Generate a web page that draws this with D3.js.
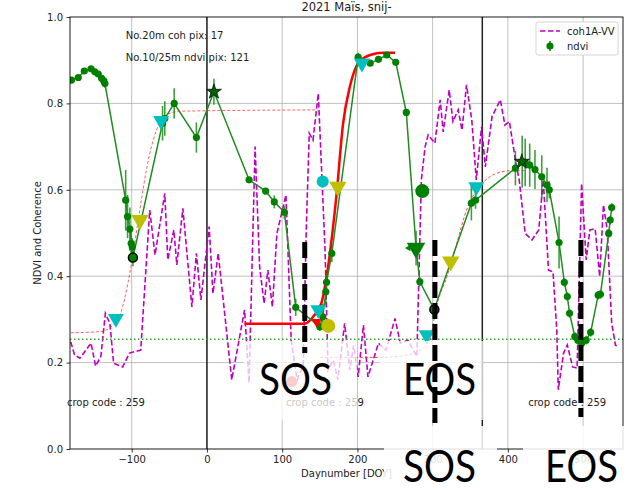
<!DOCTYPE html>
<html>
<head>
<meta charset="utf-8">
<script src="https://cdnjs.cloudflare.com/ajax/libs/d3/7.8.5/d3.min.js"></script>
<style>
  body { margin: 0; background: #fff; }
  text { font-family: "DejaVu Sans", sans-serif; }
</style>
</head>
<body>
<div id="chart"></div>
<script>
// ---- data ----
const title = "2021 Maïs, snij-";
const xTicks = [-100, 0, 100, 200, 300, 400, 500];
const yTicks = [0.0, 0.2, 0.4, 0.6, 0.8, 1.0];

// coherence coh1A-VV
const cohDoy = [-181, -176, -169, -154, -148, -141, -135, -129, -124, -112, -103, -88, -76, -69, -56, -52, -44, -40, -32, -20, -14, -8, 3, 8, 15, 33, 50, 56, 64, 70, 76, 81, 87, 93, 105, 112, 120, 128, 132, 136, 141, 148, 157, 161, 168, 174, 183, 190, 195, 201, 208, 214, 228, 238, 250, 257, 267, 279, 285, 290, 294, 303, 310, 314, 322, 327, 334, 339, 345, 352, 358, 365, 370, 379, 390, 396, 402, 410, 415, 423, 432, 441, 447, 454, 460, 465, 467, 474, 479, 486, 492, 498, 504, 509, 516, 522, 527, 532, 538, 543, 548];
const cohVal = [0.248, 0.218, 0.21, 0.245, 0.192, 0.214, 0.314, 0.291, 0.198, 0.19, 0.222, 0.229, 0.553, 0.449, 0.592, 0.438, 0.507, 0.426, 0.557, 0.329, 0.453, 0.345, 0.515, 0.36, 0.453, 0.16, 0.322, 0.153, 0.70, 0.422, 0.337, 0.414, 0.329, 0.499, 0.588, 0.252, 0.16, 0.194, 0.507, 0.731, 0.715, 0.823, 0.46, 0.183, 0.206, 0.16, 0.291, 0.183, 0.24, 0.167, 0.287, 0.167, 0.245, 0.229, 0.302, 0.245, 0.252, 0.214, 0.623, 0.70, 0.727, 0.708, 0.808, 0.734, 0.831, 0.758, 0.785, 0.738, 0.843, 0.762, 0.623, 0.746, 0.653, 0.77, 0.808, 0.75, 0.758, 0.669, 0.623, 0.499, 0.484, 0.507, 0.623, 0.414, 0.41, 0.275, 0.137, 0.222, 0.241, 0.19, 0.187, 0.615, 0.438, 0.507, 0.51, 0.399, 0.565, 0.507, 0.291, 0.24, 0.237];

// ndvi with error bars
const ndviDoy = [-180, -171, -163, -154, -149, -144.5, -140, -137, -135.6, -108, -105.5, -102.4, -100.7, -99.3, -98.4, -59, -56, -43.5, -14, 9.3, 56, 78, 89.5, 103, 118, 150, 154, 158, 159, 166, 201, 217, 228, 239, 251, 265, 278, 283, 302, 351.5, 357, 410, 419, 423, 429, 436, 445, 452, 455, 468, 475, 479, 482, 489, 493, 498, 504, 510, 520, 523, 534, 536, 538];
const ndviVal = [0.854, 0.86, 0.875, 0.88, 0.873, 0.868, 0.858, 0.852, 0.846, 0.576, 0.538, 0.509, 0.476, 0.468, 0.443, 0.754, 0.765, 0.80, 0.721, 0.827, 0.623, 0.597, 0.572, 0.548, 0.328, 0.283, 0.306, 0.364, 0.386, 0.453, 0.907, 0.893, 0.902, 0.912, 0.895, 0.779, 0.465, 0.387, 0.323, 0.569, 0.576, 0.65, 0.665, 0.663, 0.657, 0.647, 0.63, 0.611, 0.60, 0.478, 0.386, 0.353, 0.314, 0.26, 0.252, 0.245, 0.252, 0.27, 0.356, 0.358, 0.499, 0.53, 0.559];
const ndviErr = [0, 0, 0, 0, 0, 0, 0, 0, 0.01, 0.07, 0.05, 0.05, 0.03, 0.02, 0.02, 0.04, 0.04, 0.035, 0.035, 0.03, 0, 0, 0.015, 0.015, 0.02, 0.01, 0.03, 0.03, 0.02, 0.02, 0.01, 0, 0, 0, 0, 0, 0.04, 0.01, 0.01, 0.04, 0.02, 0.04, 0.06, 0.055, 0.05, 0.045, 0.05, 0.04, 0.02, 0.06, 0.01, 0.01, 0.01, 0.01, 0.01, 0.01, 0.01, 0.01, 0.01, 0.01, 0.01, 0.01, 0.01];

// fitted curves
const fit1Doy = [-181, -141, -123, -114, -105, -101, -96, -92, -76, -67, -54, -36, 148];
const fit1Val = [0.269, 0.272, 0.291, 0.318, 0.384, 0.422, 0.476, 0.522, 0.684, 0.738, 0.773, 0.782, 0.785];
const fit2Doy = [50, 130, 141, 152, 161, 172, 181, 190, 201, 217, 234, 250];
const fit2Val = [0.29, 0.29, 0.306, 0.337, 0.422, 0.584, 0.754, 0.839, 0.893, 0.912, 0.917, 0.917];
const fit3Doy = [150, 226, 257, 279, 296, 305, 319, 332, 345, 359, 376, 385, 403, 425];
const fit3Val = [0.212, 0.212, 0.215, 0.225, 0.252, 0.33, 0.399, 0.476, 0.553, 0.60, 0.63, 0.638, 0.644, 0.644];

// phenology markers
const cyanTriDoy = [-121, -61, 148, 206, 292, 358];
const cyanTriVal = [0.302, 0.76, 0.322, 0.893, 0.264, 0.607];
const yellowTriDoy = [-89, 174, 324];
const yellowTriVal = [0.53, 0.607, 0.434];
const edgeDotDoy = [-98.4, 302.3];
const edgeDotVal = [0.443, 0.323];
const starDoy = [9.3, 418.5];
const starVal = [0.827, 0.665];

const noiseLevel = 0.254;
const yearLines = [0, 366];
const sosEosDoy = [130, 303, 497];
const sosEosTop = [0.479, 0.484, 0.484];
const sosEosBottom = [0.222, 0.06, 0.074];
const cropCodeDoy = [-186, 105, 427];

// ---- chart ----
const width = 629, height = 490;
const margin = {top: 17, right: 6, bottom: 41, left: 70};

const svg = d3.select("#chart").append("svg")
  .attr("width", width)
  .attr("height", height);

const x = d3.scaleLinear().domain([-182, 553]).range([margin.left, width - margin.right]);
const y = d3.scaleLinear().domain([0, 1]).range([height - margin.bottom, margin.top]);

svg.append("clipPath").attr("id", "plot")
  .append("rect")
  .attr("x", margin.left).attr("y", margin.top)
  .attr("width", x.range()[1] - margin.left)
  .attr("height", y(0) - margin.top);

// grid
svg.append("g")
  .selectAll("line").data(xTicks).enter().append("line")
  .attr("x1", d => x(d)).attr("x2", d => x(d))
  .attr("y1", y(0)).attr("y2", y(1))
  .style("stroke", "#b0b0b0").style("stroke-width", 0.8);
svg.append("g")
  .selectAll("line").data(yTicks.slice(1, 5)).enter().append("line")
  .attr("x1", x.range()[0]).attr("x2", x.range()[1])
  .attr("y1", d => y(d)).attr("y2", d => y(d))
  .style("stroke", "#b0b0b0").style("stroke-width", 0.8);

const plot = svg.append("g").attr("clip-path", "url(#plot)");

// year boundaries
plot.selectAll("line.year").data(yearLines).enter().append("line")
  .attr("class", "year")
  .attr("x1", d => x(d)).attr("x2", d => x(d))
  .attr("y1", y(0)).attr("y2", y(1))
  .style("stroke", "#222").style("stroke-width", 1.5);

// coherence
const cohPts = cohDoy.map((d, i) => [d, cohVal[i]]);
plot.append("path")
  .attr("d", d3.line().x(d => x(d[0])).y(d => y(d[1]))(cohPts))
  .style("fill", "none").style("stroke", "#bf00bf")
  .style("stroke-width", 1.6).style("stroke-dasharray", "5.5,2.5");

// noise level
plot.append("line")
  .attr("x1", x.range()[0]).attr("x2", x.range()[1])
  .attr("y1", y(noiseLevel)).attr("y2", y(noiseLevel))
  .style("stroke", "#2ca02c").style("stroke-width", 1.3)
  .style("stroke-dasharray", "1.5,2.5");

// fitted curves
const smooth = d3.line().x(d => x(d[0])).y(d => y(d[1])).curve(d3.curveMonotoneX);
plot.append("path")
  .attr("d", smooth(fit1Doy.map((d, i) => [d, fit1Val[i]])))
  .style("fill", "none").style("stroke", "#ff2020").style("opacity", 0.7)
  .style("stroke-width", 1).style("stroke-dasharray", "3,2");
plot.append("path")
  .attr("d", smooth(fit3Doy.map((d, i) => [d, fit3Val[i]])))
  .style("fill", "none").style("stroke", "#ff2020").style("opacity", 0.8)
  .style("stroke-width", 1).style("stroke-dasharray", "3,2");
plot.append("path")
  .attr("d", smooth(fit2Doy.map((d, i) => [d, fit2Val[i]])))
  .style("fill", "none").style("stroke", "#ff0000").style("stroke-width", 2.5);

// ndvi error bars
ndviDoy.forEach((d, i) => {
  if (ndviErr[i] > 0) {
    plot.append("line")
      .attr("x1", x(d)).attr("x2", x(d))
      .attr("y1", y(ndviVal[i] - ndviErr[i])).attr("y2", y(ndviVal[i] + ndviErr[i]))
      .style("stroke", "#008000").style("stroke-width", 1.6).style("opacity", 0.75);
  }
});

// ndvi line + dots
const ndviPts = ndviDoy.map((d, i) => [d, ndviVal[i]]);
plot.append("path")
  .attr("d", d3.line().x(d => x(d[0])).y(d => y(d[1]))(ndviPts))
  .style("fill", "none").style("stroke", "#228b22").style("stroke-width", 1.5);
plot.selectAll("circle.ndvi").data(ndviPts).enter().append("circle")
  .attr("class", "ndvi")
  .attr("cx", d => x(d[0])).attr("cy", d => y(d[1])).attr("r", 3.6)
  .style("fill", "#008000");

// markers
const triDown = d3.symbol().type(d3.symbolTriangle);
function triangles(doys, vals, color, size) {
  doys.forEach((d, i) => {
    plot.append("path")
      .attr("d", triDown.size(size)())
      .attr("transform", `translate(${x(d)},${y(vals[i])}) rotate(180)`)
      .style("fill", color);
  });
}
triangles(cyanTriDoy, cyanTriVal, "#00bfbf", 110);
triangles(yellowTriDoy, yellowTriVal, "#bfbf00", 130);
triangles([146], [0.294], "#ff0000", 45);
triangles([277.9], [0.465], "#008000", 150);

// left arrow on green triangle
plot.append("line")
  .attr("x1", x(269)).attr("x2", x(277.9))
  .attr("y1", y(0.465)).attr("y2", y(0.465))
  .style("stroke", "#008000").style("stroke-width", 1.3);
plot.append("path")
  .attr("d", d3.symbol().type(d3.symbolTriangle).size(18)())
  .attr("transform", `translate(${x(268)},${y(0.465)}) rotate(-90)`)
  .style("fill", "#008000");

// dots
plot.append("circle").attr("cx", x(153.9)).attr("cy", y(0.619)).attr("r", 6).style("fill", "#00bfbf");
plot.append("circle").attr("cx", x(161.3)).attr("cy", y(0.285)).attr("r", 7).style("fill", "#bfbf00");
plot.append("circle").attr("cx", x(286.3)).attr("cy", y(0.597)).attr("r", 7).style("fill", "#008000");
plot.append("circle").attr("cx", x(112.6)).attr("cy", y(0.156)).attr("r", 5.5).style("fill", "#ff3030");
edgeDotDoy.forEach((d, i) => {
  plot.append("circle").attr("cx", x(d)).attr("cy", y(edgeDotVal[i])).attr("r", 4.5)
    .style("fill", "#008000").style("stroke", "#000").style("stroke-width", 1.5);
});
starDoy.forEach((d, i) => {
  plot.append("path")
    .attr("d", d3.symbol().type(d3.symbolStar).size(70)())
    .attr("transform", `translate(${x(d)},${y(starVal[i])})`)
    .style("fill", "#006400").style("stroke", "#111").style("stroke-width", 0.8);
});

// spines
svg.append("rect")
  .attr("x", margin.left).attr("y", margin.top)
  .attr("width", x.range()[1] - margin.left).attr("height", y(0) - margin.top)
  .style("fill", "none").style("stroke", "#000").style("stroke-width", 0.9);

// axes
const xAxis = svg.append("g")
  .attr("transform", `translate(0,${y(0)})`)
  .call(d3.axisBottom(x).tickValues(xTicks).tickSize(3.5).tickPadding(3.5).tickFormat(d3.format("d")));
const yAxis = svg.append("g")
  .attr("transform", `translate(${margin.left},0)`)
  .call(d3.axisLeft(y).tickValues(yTicks).tickSize(3.5).tickPadding(3.5).tickFormat(d3.format(".1f")));
[xAxis, yAxis].forEach(a => {
  a.select(".domain").remove();
  a.selectAll("text").style("font-family", "DejaVu Sans").style("font-size", "10px").style("fill", "#222");
  a.selectAll("line").style("stroke", "#000").style("stroke-width", 0.8);
});

// labels
svg.append("text")
  .attr("x", (margin.left + x.range()[1]) / 2).attr("y", 11)
  .style("text-anchor", "middle").style("font-size", "11.5px").style("fill", "#222")
  .text(title);
svg.append("text")
  .attr("x", (margin.left + x.range()[1]) / 2).attr("y", 477)
  .style("text-anchor", "middle").style("font-size", "10px").style("fill", "#222")
  .text("Daynumber [DOY]");
svg.append("text")
  .attr("transform", `translate(41,${(y(0) + y(1)) / 2}) rotate(-90)`)
  .style("text-anchor", "middle").style("font-size", "10px").style("fill", "#222")
  .text("NDVI and Coherence");

svg.append("text").attr("x", x(-108)).attr("y", 39)
  .style("font-size", "10px").style("fill", "#222").text("No.20m coh pix: 17");
svg.append("text").attr("x", x(-108)).attr("y", 61)
  .style("font-size", "10px").style("fill", "#222").text("No.10/25m ndvi pix: 121");

cropCodeDoy.forEach(d => {
  svg.append("text").attr("x", x(d)).attr("y", 406)
    .style("font-size", "10px").style("fill", "#222").text("crop code : 259");
});

// legend
const leg = svg.append("g").attr("transform", "translate(536,22)");
leg.append("rect").attr("width", 82).attr("height", 33).attr("rx", 2)
  .style("fill", "#fff").style("stroke", "#ccc").style("stroke-width", 0.8);
leg.append("line").attr("x1", 4).attr("x2", 24).attr("y1", 9).attr("y2", 9)
  .style("stroke", "#bf00bf").style("stroke-width", 1.6).style("stroke-dasharray", "5.5,2.5");
leg.append("text").attr("x", 31).attr("y", 13).style("font-size", "10px").style("fill", "#222").text("coh1A-VV");
leg.append("line").attr("x1", 14).attr("x2", 14).attr("y1", 19).attr("y2", 29)
  .style("stroke", "#008000").style("stroke-width", 1.5);
leg.append("circle").attr("cx", 14).attr("cy", 24).attr("r", 3.6).style("fill", "#008000");
leg.append("text").attr("x", 31).attr("y", 28).style("font-size", "10px").style("fill", "#222").text("ndvi");

// pasted-over annotation boxes
const boxes = [
  [244, 341, 113, 79, 0.75],
  [380, 341, 103, 79, 0.75],
  [384, 426, 113, 64, 0.85],
  [523, 426, 106, 64, 0.85]
];
boxes.forEach(b => {
  svg.append("rect").attr("x", b[0]).attr("y", b[1]).attr("width", b[2]).attr("height", b[3])
    .style("fill", "#fff").style("opacity", b[4]);
});

// big SOS / EOS words
const words = [["SOS", 259, 395], ["EOS", 403, 395], ["SOS", 403, 482], ["EOS", 545, 482]];
words.forEach(w => {
  svg.append("text").attr("x", w[1]).attr("y", w[2])
    .attr("textLength", 73).attr("lengthAdjust", "spacingAndGlyphs")
    .style("font-family", "Lato, 'Liberation Sans', sans-serif").style("font-size", "44px")
    .style("fill", "#000").text(w[0]);
});

// sos / eos markers
sosEosDoy.forEach((d, i) => {
  svg.append("line")
    .attr("x1", x(d)).attr("x2", x(d))
    .attr("y1", y(sosEosTop[i])).attr("y2", y(sosEosBottom[i]))
    .style("stroke", "#000").style("stroke-width", 5).style("stroke-dasharray", "16,5");
});
</script>
</body>
</html>
